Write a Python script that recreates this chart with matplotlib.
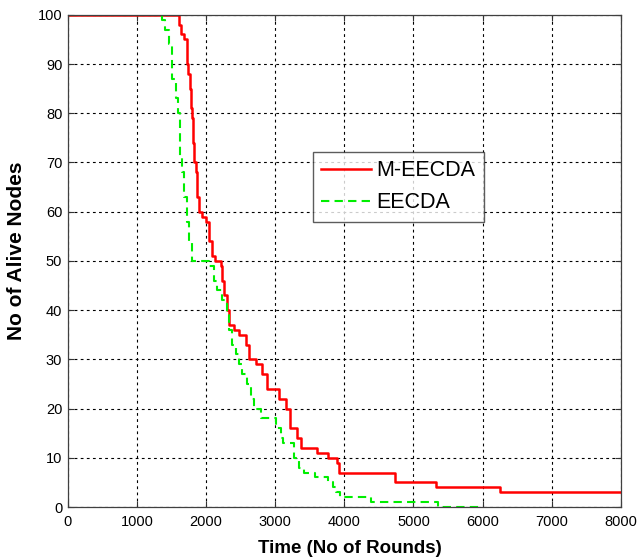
import matplotlib
matplotlib.use("Agg")
import matplotlib.pyplot as plt

# ---------------------------------------------------------------------------- #
#                                     DATA                                     #
# ---------------------------------------------------------------------------- #

m_rounds = [0, 1610, 1640, 1680, 1720, 1740, 1770, 1785, 1800, 1815, 1830, 1855,
            1870, 1900, 1940, 2000, 2040, 2085, 2130, 2215, 2230, 2260, 2300,
            2330, 2400, 2475, 2575, 2620, 2720, 2805, 2880, 3050, 3150, 3220,
            3310, 3380, 3600, 3770, 3890, 3920, 4740, 5330, 6250, 8000]
m_alive = [100, 98, 96, 95, 90, 88, 85, 81, 79, 74, 70, 68,
           63, 60, 59, 58, 54, 51, 50, 49, 46, 43, 40,
           37, 36, 35, 33, 30, 29, 27, 24, 22, 20, 16,
           14, 12, 11, 10, 9, 7, 5, 4, 3, 3]

e_rounds = [0, 1360, 1400, 1470, 1510, 1570, 1600, 1625, 1655, 1685, 1725, 1755,
            1800, 2040, 2115, 2160, 2230, 2300, 2330, 2375, 2430, 2475, 2520,
            2590, 2645, 2690, 2790, 2860, 3010, 3080, 3120, 3270, 3340, 3410,
            3580, 3770, 3840, 3885, 3940, 4390, 5350, 6000]
e_alive = [100, 99, 97, 94, 87, 83, 80, 71, 68, 63, 58, 54,
           50, 49, 46, 44, 42, 39, 36, 33, 31, 29, 27,
           25, 22, 20, 18, 18, 16, 14, 13, 10, 8, 7,
           6, 5, 4, 3, 2, 1, 0, 0]

x_ticks = list(range(0, 8001, 1000))
y_ticks = list(range(0, 101, 10))

# ---------------------------------------------------------------------------- #
#                                     PLOT                                     #
# ---------------------------------------------------------------------------- #

plt.rcParams['font.family'] = ['Liberation Sans', 'DejaVu Sans']

fig = plt.figure(figsize=(6.4, 5.6), dpi=100)
ax = fig.add_axes([0.106, 0.0946, 0.864, 0.879])

ax.plot(m_rounds, m_alive, drawstyle='steps-post', color='#ff0000',
        linewidth=1.8, label='M-EECDA')
ax.plot(e_rounds, e_alive, drawstyle='steps-post', color='#00ee00',
        linewidth=1.5, dashes=(4, 2.5), label='EECDA')

ax.set_xlim(0, 8000)
ax.set_ylim(0, 100)
ax.set_xticks(x_ticks)
ax.set_yticks(y_ticks)
ax.tick_params(direction='in', top=True, right=True, labelsize=10.5,
               length=4, width=0.8, colors='#333333', labelcolor='black')
ax.tick_params(axis='x', pad=6)
ax.tick_params(axis='y', pad=4)
ax.grid(True, color='black', linestyle=(0, (2.5, 3)), linewidth=0.8)
for s in ax.spines.values():
    s.set_color('#404040')
    s.set_linewidth(0.9)

ax.set_xlabel('Time (No of Rounds)', fontsize=13.5, fontweight='bold')
ax.set_ylabel('No of Alive Nodes', fontsize=15, fontweight='bold')
ax.xaxis.set_label_coords(0.51, -0.066)
ax.yaxis.set_label_coords(-0.075, 0.52)

leg = ax.legend(loc='upper left', bbox_to_anchor=(0.443, 0.7215), fontsize=15.5,
                frameon=True, fancybox=False, edgecolor='#333333',
                handlelength=2.3, borderpad=0.4, labelspacing=0.5,
                handletextpad=0.25, borderaxespad=0)
leg.get_frame().set_linewidth(1.0)

fig.savefig('out.png', dpi=100)
